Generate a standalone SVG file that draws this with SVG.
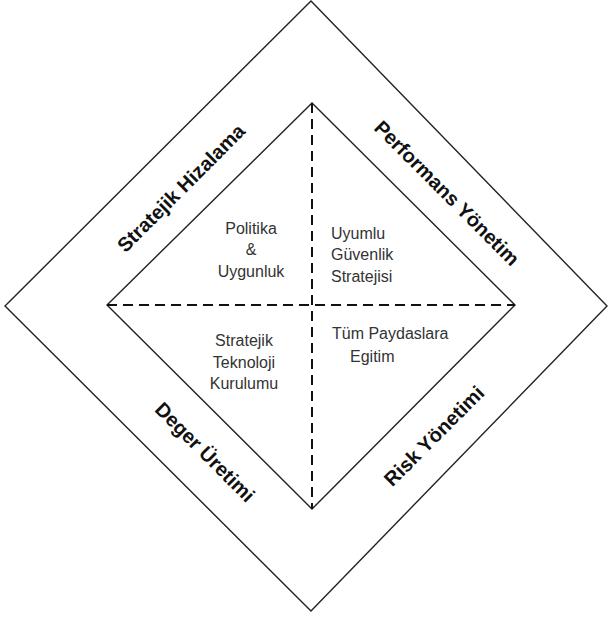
<svg xmlns="http://www.w3.org/2000/svg" width="610" height="618" viewBox="0 0 610 618">
  <style>
    .frame { fill: none; stroke: #222; stroke-width: 1.4; }
    .axis { fill: none; stroke: #111; stroke-width: 2; stroke-dasharray: 10 6; }
    .band { font-family: "Liberation Sans", Arial, sans-serif; font-weight: bold; font-size: 20px; fill: #111; text-anchor: middle; }
    .cell { font-family: "Liberation Sans", Arial, sans-serif; font-size: 16px; fill: #333; }
  </style>
  <rect width="610" height="618" fill="#fff"/>

  <!-- outer and inner diamonds -->
  <g id="outer-diamond">
    <polygon class="frame" points="311,1 607,306 311,611 5,306"/>
  </g>
  <g id="inner-diamond">
    <polygon class="frame" points="312,103 515,305 312,509 107,305"/>
  </g>

  <!-- dashed axes splitting the inner diamond -->
  <g id="connectors">
    <line class="axis" x1="107" y1="305" x2="515" y2="305"/>
    <line class="axis" x1="312" y1="103" x2="312" y2="509"/>
  </g>

  <!-- band labels -->
  <g id="stratejik-hizalama">
    <text class="band" transform="translate(181,188) rotate(-45)" y="7">Stratejik Hizalama</text>
  </g>
  <g id="performans-yonetim">
    <text class="band" transform="translate(447,193) rotate(45)" y="7">Performans Yönetim</text>
  </g>
  <g id="deger-uretimi">
    <text class="band" transform="translate(205,452) rotate(45)" y="7">Deger Üretimi</text>
  </g>
  <g id="risk-yonetimi">
    <text class="band" transform="translate(434,436) rotate(-45)" y="7">Risk Yönetimi</text>
  </g>

  <!-- quadrant texts -->
  <g id="politika-uygunluk">
    <text class="cell" text-anchor="middle" x="251" y="234">Politika</text>
    <text class="cell" text-anchor="middle" x="251" y="255">&amp;</text>
    <text class="cell" text-anchor="middle" x="251" y="277">Uygunluk</text>
  </g>
  <g id="uyumlu-guvenlik">
    <text class="cell" x="331" y="239">Uyumlu</text>
    <text class="cell" x="331" y="260">Güvenlik</text>
    <text class="cell" x="331" y="282">Stratejisi</text>
  </g>
  <g id="stratejik-teknoloji">
    <text class="cell" text-anchor="middle" x="244" y="346">Stratejik</text>
    <text class="cell" text-anchor="middle" x="244" y="368">Teknoloji</text>
    <text class="cell" text-anchor="middle" x="244" y="389">Kurulumu</text>
  </g>
  <g id="paydas-egitim">
    <text class="cell" x="332" y="339">Tüm Paydaslara</text>
    <text class="cell" x="350" y="362">Egitim</text>
  </g>
</svg>
